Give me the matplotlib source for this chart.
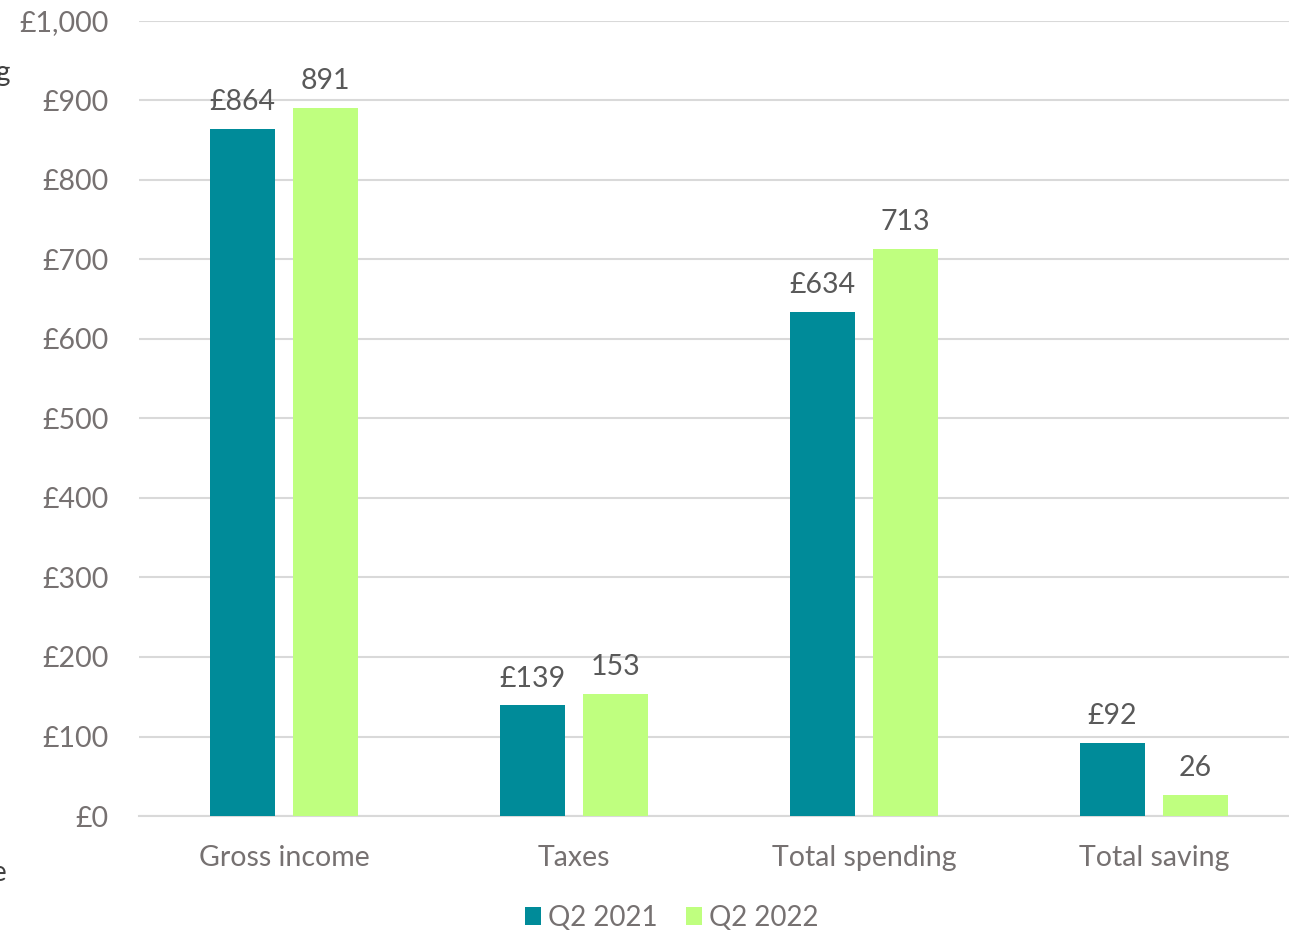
import numpy as np
import matplotlib.pyplot as plt
from matplotlib.ticker import FuncFormatter

# household finances, weekly averages
categories = ["Gross income", "Taxes", "Total spending", "Total saving"]
q2_2021 = [864, 139, 634, 92]
q2_2022 = [891, 153, 713, 26]
series_names = ["Q2 2021", "Q2 2022"]

TEAL = "#008B99"
LIME = "#BFFF7F"
GREY = "#767171"

plt.rcParams['font.family'] = ['Lato', 'DejaVu Sans']

fig = plt.figure(figsize=(12.89, 9.33), dpi=100)
# plot area runs a little past the right edge of the canvas
ax = fig.add_axes([0.1078, 0.1254, 0.9000, 0.8521])

x = np.arange(len(categories))
w = 0.224
off = 0.143

b1 = ax.bar(x - off, q2_2021, width=w, color=TEAL, label=series_names[0], zorder=3)
b2 = ax.bar(x + off, q2_2022, width=w, color=LIME, label=series_names[1], zorder=3)

for rect, v in zip(b1, q2_2021):
    ax.annotate(f"£{v}", (rect.get_x() + rect.get_width() / 2, v),
                xytext=(0, 10), textcoords="offset points",
                ha="center", va="bottom", fontsize=20.5, color="#595959")
for rect, v in zip(b2, q2_2022):
    ax.annotate(f"{v}", (rect.get_x() + rect.get_width() / 2, v),
                xytext=(0, 10), textcoords="offset points",
                ha="center", va="bottom", fontsize=20.5, color="#595959")

ax.set_xlim(-0.5, len(categories) - 0.5)
ax.set_ylim(0, 1000)
ax.set_yticks(np.arange(0, 1001, 100))
ax.yaxis.set_major_formatter(FuncFormatter(lambda v, p: f"£{int(v):,}"))
ax.set_xticks(x)
ax.set_xticklabels(categories)

ax.grid(axis="y", color="#D9D9D9", linewidth=1.5, zorder=0)
for s in ["top", "right", "left"]:
    ax.spines[s].set_visible(False)
ax.spines["bottom"].set_color("#D9D9D9")
ax.spines["bottom"].set_linewidth(1.5)
ax.spines["bottom"].set_zorder(1)
ax.tick_params(axis="both", length=0, labelsize=20.5, colors=GREY)
ax.tick_params(axis="y", pad=22)
ax.tick_params(axis="x", pad=21)

fig.legend(loc="center", bbox_to_anchor=(0.521, 0.016), ncol=2, frameon=False,
           fontsize=20, labelcolor=GREY, handlelength=0.6, handleheight=0.6,
           handletextpad=0.25, columnspacing=1.0)

# bits of neighbouring text cut off at the left edge
fig.text(-0.004, 0.922, "g", fontsize=20, color="#404040", ha="left", va="center")
fig.text(-0.006, 0.064, "e", fontsize=20, color="#404040", ha="left", va="center")

fig.savefig("out.png", dpi=100)
